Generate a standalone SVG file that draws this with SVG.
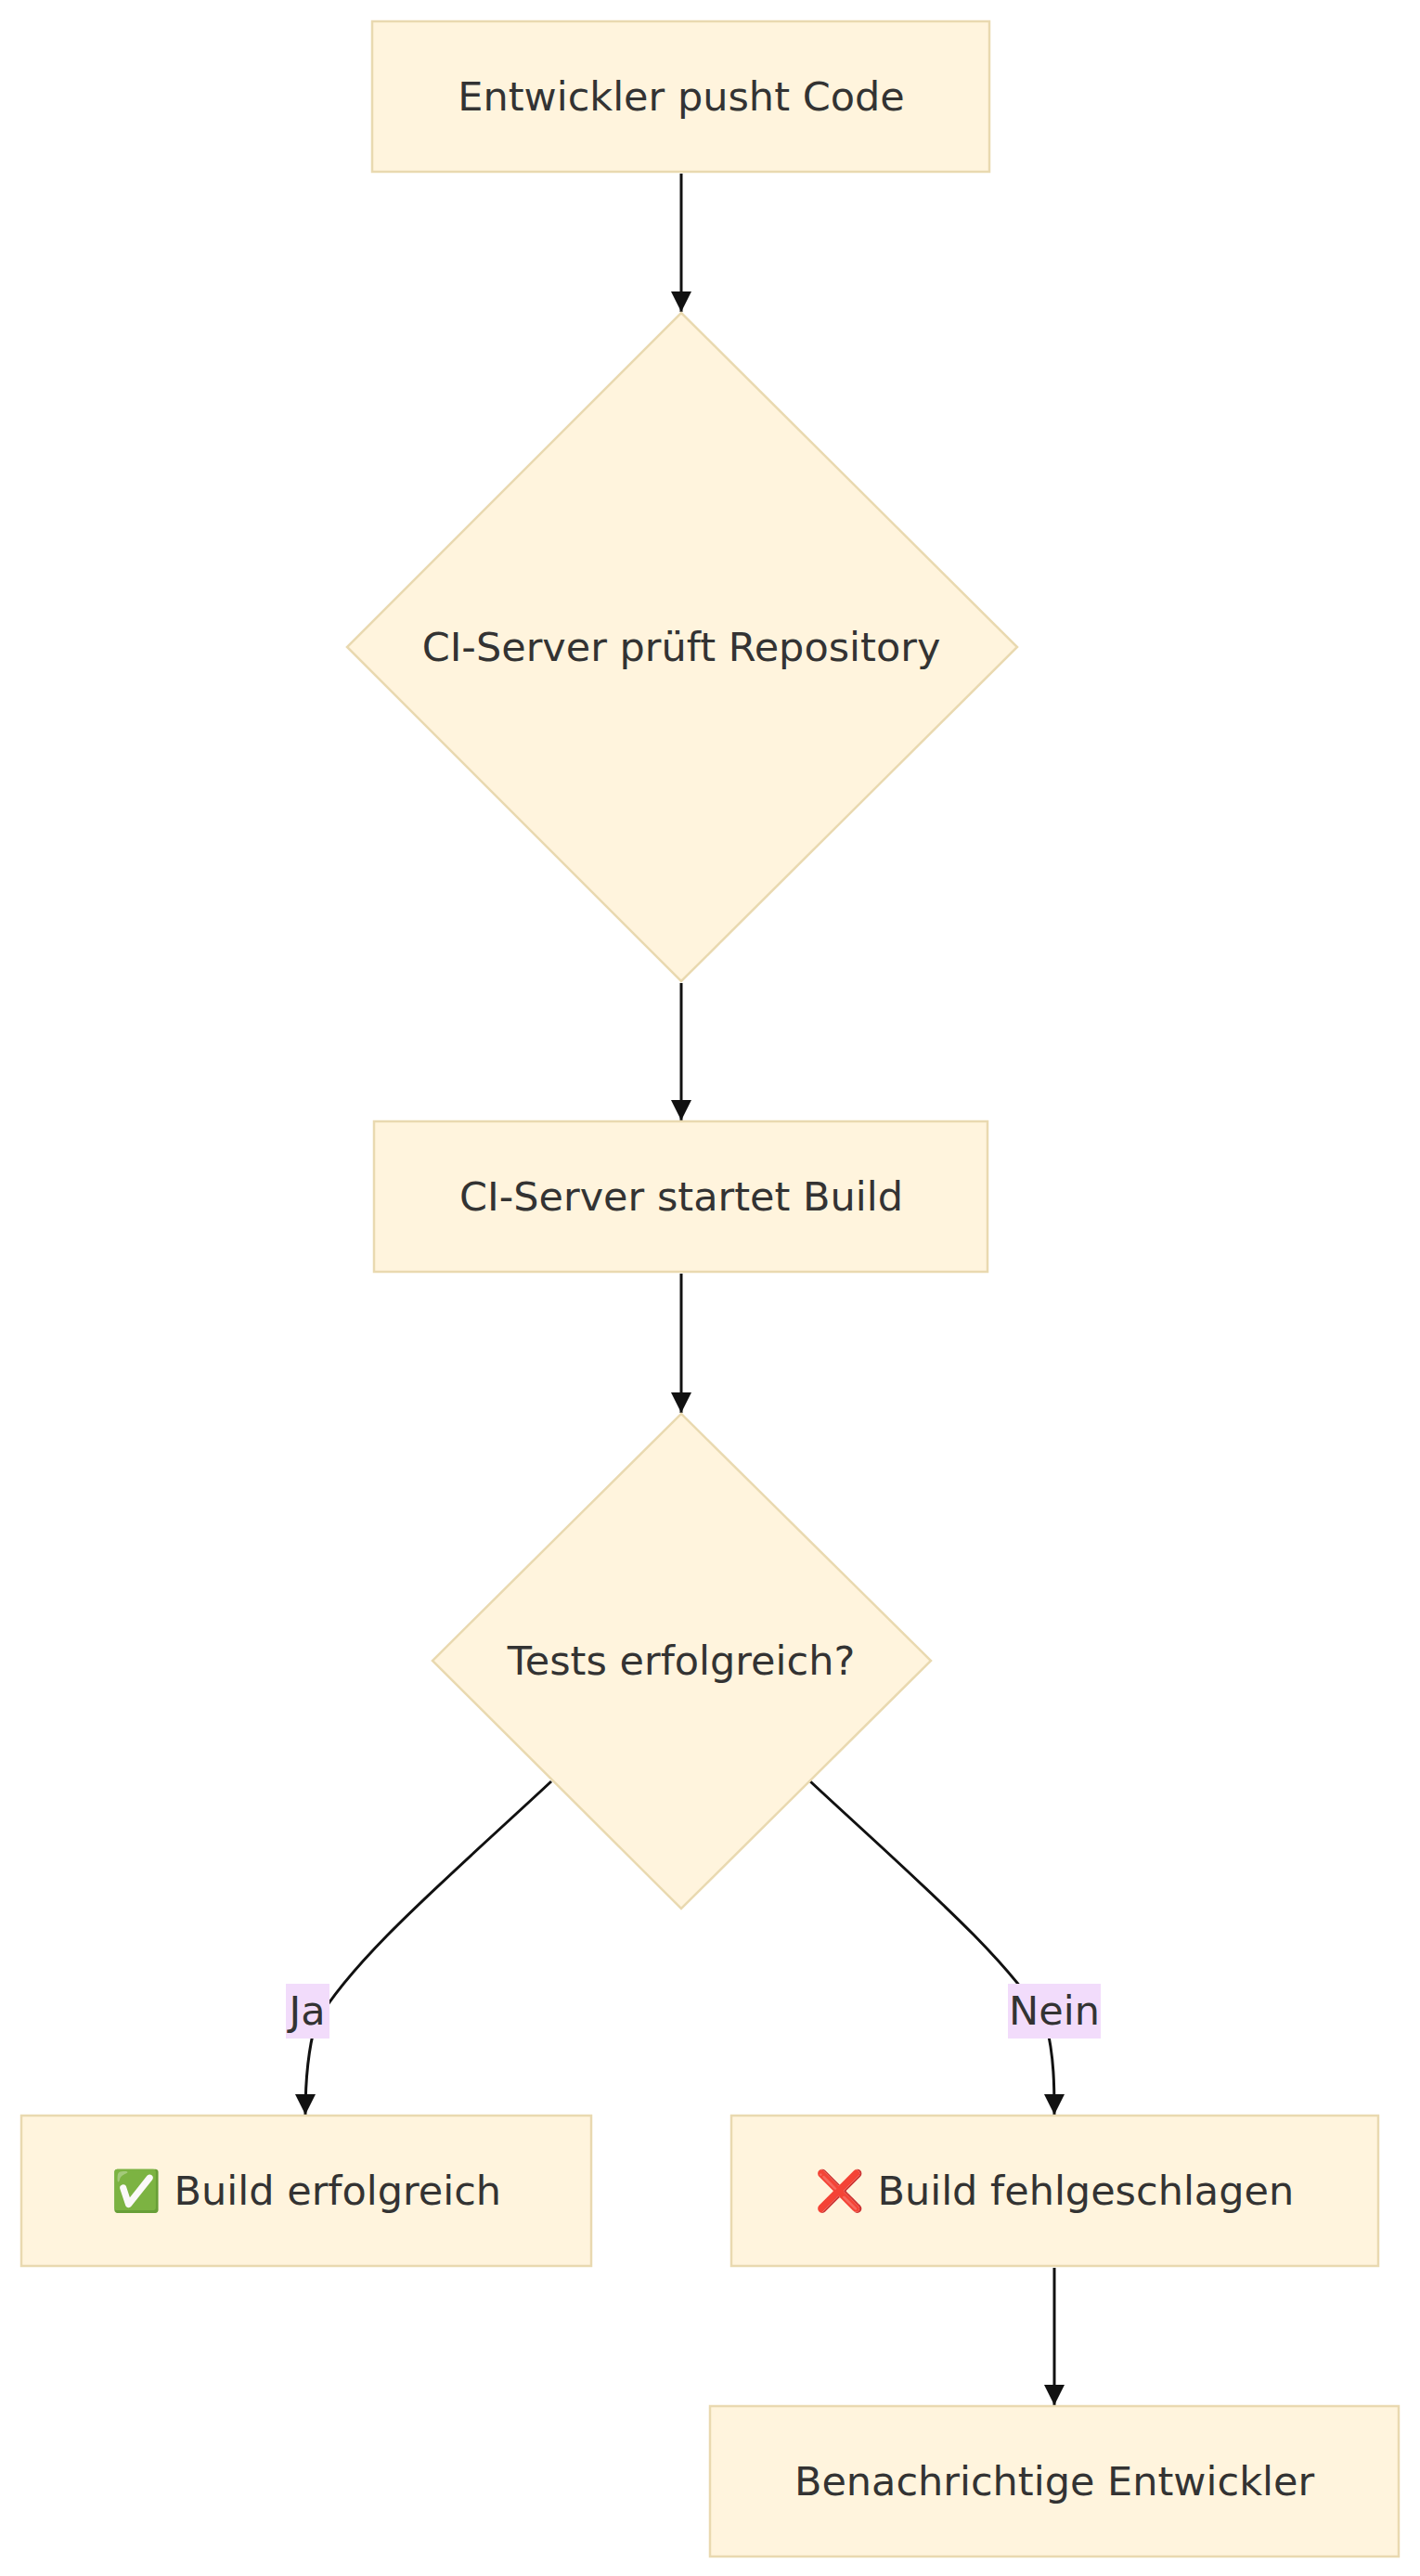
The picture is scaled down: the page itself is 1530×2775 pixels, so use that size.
<svg xmlns="http://www.w3.org/2000/svg" width="1530" height="2775" viewBox="0 0 1530 2775">
<style>
.n{fill:#fff4dd;stroke:#e9d9b0;stroke-width:2.5}
.t{font-family:"DejaVu Sans","Noto Sans",sans-serif;font-size:43px;fill:#333;text-anchor:middle;dominant-baseline:central}
.e{fill:none;stroke:#111;stroke-width:3}
.lb{fill:#f2dcfb}
</style>
<defs><marker id="a" viewBox="0 0 10 10" refX="10" refY="5" markerWidth="22" markerHeight="22" orient="auto" markerUnits="userSpaceOnUse"><path d="M0,0L10,5L0,10z" fill="#111"/></marker></defs>
<rect width="1530" height="2775" fill="#fff"/>
<g id="edges">
<path class="e" d="M734,187V336" marker-end="url(#a)"/>
<path class="e" d="M734,1059V1207" marker-end="url(#a)"/>
<path class="e" d="M734,1372V1522" marker-end="url(#a)"/>
<path class="e" d="M594,1919C480,2025 380,2110 340,2180C330,2215 329,2250 329,2278" marker-end="url(#a)"/>
<path class="e" d="M873,1919C987,2025 1087,2110 1127,2180C1136,2215 1136,2250 1136,2278" marker-end="url(#a)"/>
<path class="e" d="M1136,2443V2591" marker-end="url(#a)"/>
<rect class="lb" x="308" y="2137" width="47" height="59"/>
<text class="t" x="331" y="2166">Ja</text>
<rect class="lb" x="1086" y="2137" width="100" height="59"/>
<text class="t" x="1136" y="2166">Nein</text>
</g>
<g id="n1"><rect class="n" x="401" y="23" width="665" height="162"/><text class="t" x="734" y="104">Entwickler pusht Code</text></g>
<g id="n2"><polygon class="n" points="734,337 1096,697 734,1057 374,697"/><text class="t" x="734" y="697">CI-Server prüft Repository</text></g>
<g id="n3"><rect class="n" x="403" y="1208" width="661" height="162"/><text class="t" x="734" y="1289">CI-Server startet Build</text></g>
<g id="n4"><polygon class="n" points="734,1523 1003,1789 734,2056 466,1789"/><text class="t" x="734" y="1789">Tests erfolgreich?</text></g>
<g id="n5"><rect class="n" x="23" y="2279" width="614" height="162"/><text class="t" x="330" y="2360">✅ Build erfolgreich</text></g>
<g id="n6"><rect class="n" x="788" y="2279" width="697" height="162"/><text class="t" x="1136" y="2360">❌ Build fehlgeschlagen</text></g>
<g id="n7"><rect class="n" x="765" y="2592" width="742" height="162"/><text class="t" x="1136" y="2673">Benachrichtige Entwickler</text></g>
</svg>
